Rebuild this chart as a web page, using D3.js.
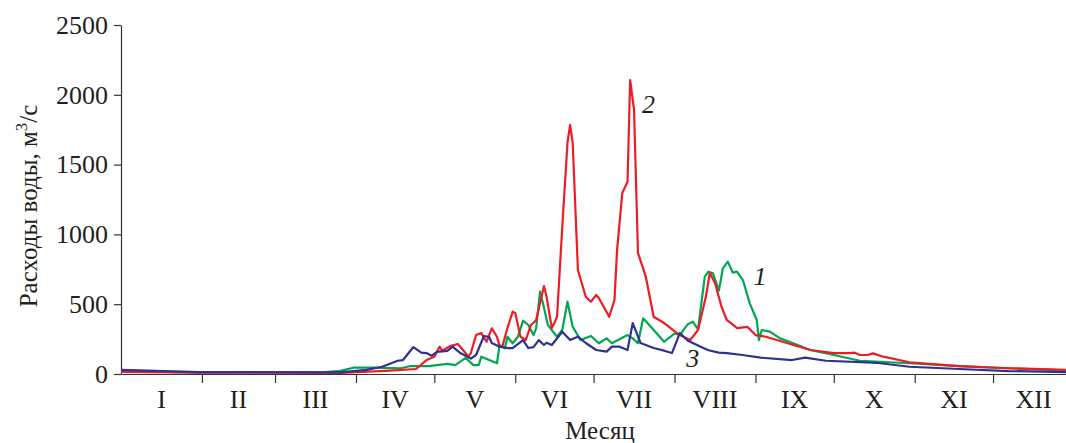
<!DOCTYPE html>
<html>
<head>
<meta charset="utf-8">
<script src="https://cdn.jsdelivr.net/npm/d3@7"></script>
<style>
  body { margin: 0; background: #fff; }
  svg { display: block; }
  text { font-family: 'Liberation Serif', 'Times New Roman', serif; fill: #231f20; }
  .axis path, .axis line { stroke: #333; stroke-width: 1.2; }
  .axis text { font-size: 26px; font-family: 'Liberation Serif', 'Times New Roman', serif; fill: #231f20; }
</style>
</head>
<body>
<div id="chart"></div>
<script>
// data: [day of year, discharge m3/s]
let months = ['I', 'II', 'III', 'IV', 'V', 'VI', 'VII', 'VIII', 'IX', 'X', 'XI', 'XII'];
let monthLengths = [31, 28, 31, 30, 31, 30, 31, 31, 30, 31, 30, 31];
let yTicks = [0, 500, 1000, 1500, 2000, 2500];

// curve 1 (green)
let flow1 = [[0,20],[30,12],[78,13],[84,22],[89,45],[97,45],[107,41],[111,57],[118,57],[121,64],[125,72],[128,64],
  [132,115],[135,64],[137,64],[138,124],[141,100],[144,77],[145,208],[147,184],[148,267],[150,220],[152,267],
  [154,382],[156,351],[158,279],[159,327],[160.5,590],[161.6,506],[163.5,351],[167,267],[169,315],[171,518],
  [173,339],[176,243],[180,272],[183,220],[186,255],[188,220],[194,279],[196,255],[198,220],[200,399],[204,315],
  [208,231],[212,290],[214,279],[217,355],[219,375],[221,320],[223.6,697],[225,733],[226.7,721],[229,597],
  [230.5,757],[232.4,805],[234.3,726],[235.9,733],[238.2,673],[240.8,506],[243.5,387],[244.3,243],[245.4,315],
  [248.5,303],[252.4,255],[256,231],[264,172],[273,136],[283,95],[302,77],[321,57],[340,41],[365,24]];

// curve 2 (red)
let flow2 = [[0,15],[30,10],[84,7],[103,24],[113,36],[117,100],[120,124],[122,196],[123,167],[126,200],[129,215],
  [131,172],[133,124],[134,150],[136,279],[138,294],[140,231],[142,327],[144,267],[145,196],[146,193],[148,329],
  [150,446],[151,437],[153,267],[155,243],[157,351],[158,367],[159,387],[162,630],[163,553],[165,329],[166,365],
  [167,410],[169,1050],[171,1655],[172,1784],[173,1655],[175,745],[178,553],[180,518],[182,566],[183,544],
  [187,410],[189,530],[190,888],[192,1296],[194,1377],[195,2106],[196.5,1891],[198,867],[201,697],[204,410],
  [208,365],[214,279],[218,243],[221,315],[224,553],[225.5,723],[227.5,652],[230,482],[232,387],[236,329],
  [240,337],[243,279],[247,267],[255,222],[264,172],[273,150],[279,150],[281,153],[283,136],[286,136],[288,148],
  [292,124],[302,84],[321,57],[340,41],[365,29]];

// curve 3 (blue)
let flow3 = [[0,29],[30,14],[84,12],[94,29],[100,52],[106,95],[108,100],[112,193],[115,153],[117,150],[119,131],
  [121,158],[125,165],[127,196],[130,150],[134,110],[136,136],[139,272],[141,265],[142,222],[145,196],[148,186],
  [150,186],[154,243],[156,186],[158,193],[160,243],[162,208],[163,224],[165,208],[169,303],[172,243],[175,267],
  [178,222],[182,172],[186,160],[188,196],[191,196],[194,172],[196,365],[199,222],[204,186],[208,167],[211,150],
  [213,243],[214,294],[217,240],[219,222],[222,196],[225,170],[229,153],[232,150],[238,136],[245,117],[257,100],
  [262,117],[270,95],[290,79],[302,52],[321,36],[340,21],[365,12]];

// curve number labels: [day, value, text]
let curveLabels = [[244.7, 637, '1'], [202, 1870, '2'], [219, 50, '3']];

let svgWidth = 1066;
let svgHeight = 443;

let svg = d3.select('#chart')
  .append('svg')
  .attr('width', svgWidth)
  .attr('height', svgHeight);

let x = d3.scaleLinear()
  .domain([0, 365])
  .range([121, 1074]);

let y = d3.scaleLinear()
  .domain([0, 2500])
  .range([374, 25]);

// month boundaries
let monthStarts = [];
let acc = 0;
monthLengths.forEach(function(n) {
  monthStarts.push(acc);
  acc += n;
});

// x axis
let xAxis = svg.append('g')
  .classed('axis', true)
  .attr('transform', `translate(0, ${y(0)})`)
  .call(d3.axisBottom(x)
    .tickValues(monthStarts.slice(1))
    .tickSize(9)
    .tickSizeOuter(0)
    .tickFormat(''));

svg.append('g')
  .selectAll('text')
  .data(months)
  .enter()
  .append('text')
  .attr('x', (d, i) => x(monthStarts[i] + monthLengths[i] / 2))
  .attr('y', 408)
  .attr('text-anchor', 'middle')
  .attr('font-size', '26px')
  .text(d => d);

// y axis
let yAxis = svg.append('g')
  .classed('axis', true)
  .attr('transform', `translate(${x(0)}, 0)`)
  .call(d3.axisLeft(y)
    .tickValues(yTicks)
    .tickSize(7)
    .tickSizeOuter(0)
    .tickPadding(6)
    .tickFormat(d3.format('d')));

// axis titles
svg.append('text')
  .attr('x', 600)
  .attr('y', 439)
  .attr('text-anchor', 'middle')
  .attr('font-size', '25px')
  .text('Месяц');

let yTitle = svg.append('text')
  .attr('transform', 'translate(37, 206) rotate(-90)')
  .attr('text-anchor', 'middle')
  .attr('font-size', '25px');
yTitle.append('tspan').text('Расходы воды, м');
yTitle.append('tspan').attr('dy', -10).attr('font-size', '17px').text('3');
yTitle.append('tspan').attr('dy', 10).text('/с');

// lines
let line = d3.line()
  .x(d => x(d[0]))
  .y(d => y(d[1]));

let series = [
  { data: flow1, color: '#00a651' },
  { data: flow2, color: '#ed1c24' },
  { data: flow3, color: '#2e3192' }
];

svg.append('g')
  .selectAll('path')
  .data(series)
  .enter()
  .append('path')
  .attr('d', d => line(d.data))
  .attr('fill', 'none')
  .attr('stroke', d => d.color)
  .attr('stroke-width', 2.2)
  .attr('stroke-linejoin', 'round');

svg.append('g')
  .selectAll('text')
  .data(curveLabels)
  .enter()
  .append('text')
  .attr('x', d => x(d[0]))
  .attr('y', d => y(d[1]))
  .attr('text-anchor', 'middle')
  .attr('font-size', '26px')
  .attr('font-style', 'italic')
  .text(d => d[2]);
</script>
</body>
</html>
